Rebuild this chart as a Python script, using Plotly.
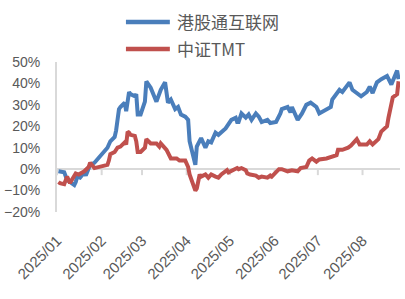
import plotly.graph_objects as go

# ---------------- data ----------------
hk_dates = [
    "2025-01-02", "2025-01-06", "2025-01-08", "2025-01-13", "2025-01-14", "2025-01-15",
    "2025-01-17", "2025-01-20", "2025-01-21", "2025-01-23", "2025-01-24", "2025-01-27",
    "2025-02-05", "2025-02-07", "2025-02-10", "2025-02-11", "2025-02-13", "2025-02-14",
    "2025-02-17", "2025-02-18", "2025-02-20", "2025-02-21", "2025-02-24", "2025-02-25",
    "2025-02-26", "2025-02-28", "2025-03-03", "2025-03-04", "2025-03-07", "2025-03-11",
    "2025-03-13", "2025-03-14", "2025-03-17", "2025-03-19", "2025-03-21", "2025-03-24",
    "2025-03-26", "2025-03-28", "2025-03-31", "2025-04-02", "2025-04-03", "2025-04-07",
    "2025-04-08", "2025-04-10", "2025-04-11", "2025-04-14", "2025-04-16", "2025-04-18",
    "2025-04-21", "2025-04-23", "2025-04-25", "2025-04-28", "2025-05-02", "2025-05-05",
    "2025-05-06", "2025-05-07", "2025-05-09", "2025-05-12", "2025-05-14", "2025-05-16",
    "2025-05-19", "2025-05-21", "2025-05-23", "2025-05-27", "2025-05-29", "2025-06-02",
    "2025-06-05", "2025-06-06", "2025-06-10", "2025-06-12", "2025-06-13", "2025-06-17",
    "2025-06-20", "2025-06-23", "2025-06-26", "2025-06-30", "2025-07-02", "2025-07-07",
    "2025-07-10", "2025-07-11", "2025-07-16", "2025-07-18", "2025-07-23", "2025-07-25",
    "2025-07-31", "2025-08-04", "2025-08-06", "2025-08-08", "2025-08-11", "2025-08-14",
    "2025-08-18", "2025-08-21", "2025-08-25", "2025-08-26",
]
hk_internet = [
    -1, -1.5, -5, -7.4, -6, -3.5,
    -4, -1.5, -3, 0, 2, 3,
    10, 13, 15, 18, 28, 29,
    31, 27, 36, 35, 34, 35,
    25.5, 25.5, 31.5, 41, 38, 31.5,
    36, 37, 40.5, 31, 32.5, 28,
    29, 25.5, 24.5, 23, 13, 2,
    10.5, 13, 14.5, 10, 13, 12.5,
    17, 16, 17, 19, 23, 24,
    22, 22, 26, 24, 25.5, 23,
    26, 24.5, 22, 23, 21.5, 22,
    26, 28, 29, 26.5, 29, 23,
    26, 30, 31, 29, 26, 28,
    29, 32.5, 37, 36, 40.5, 37,
    34, 36, 38.5, 35.5, 40.5, 42,
    43.5, 39.5, 46, 42,
]

tmt_dates = [
    "2025-01-02", "2025-01-03", "2025-01-06", "2025-01-07", "2025-01-08", "2025-01-10",
    "2025-01-14", "2025-01-16", "2025-01-20", "2025-01-23", "2025-01-24", "2025-01-27",
    "2025-02-05", "2025-02-06", "2025-02-07", "2025-02-10", "2025-02-11", "2025-02-12",
    "2025-02-14", "2025-02-17", "2025-02-18", "2025-02-19", "2025-02-20", "2025-02-21",
    "2025-02-24", "2025-02-25", "2025-02-26", "2025-02-28", "2025-03-03", "2025-03-04",
    "2025-03-07", "2025-03-11", "2025-03-13", "2025-03-14", "2025-03-18", "2025-03-20",
    "2025-03-21", "2025-03-25", "2025-03-27", "2025-03-31", "2025-04-02", "2025-04-03",
    "2025-04-07", "2025-04-08", "2025-04-10", "2025-04-11", "2025-04-14", "2025-04-16",
    "2025-04-18", "2025-04-21", "2025-04-23", "2025-04-25", "2025-04-29", "2025-04-30",
    "2025-05-06", "2025-05-07", "2025-05-09", "2025-05-12", "2025-05-13", "2025-05-15",
    "2025-05-19", "2025-05-21", "2025-05-23", "2025-05-27", "2025-05-29", "2025-05-30",
    "2025-06-04", "2025-06-06", "2025-06-10", "2025-06-13", "2025-06-17", "2025-06-19",
    "2025-06-23", "2025-06-25", "2025-06-27", "2025-06-30", "2025-07-02", "2025-07-07",
    "2025-07-10", "2025-07-14", "2025-07-15", "2025-07-18", "2025-07-22", "2025-07-24",
    "2025-07-28", "2025-07-30", "2025-08-04", "2025-08-06", "2025-08-08", "2025-08-12",
    "2025-08-14", "2025-08-18", "2025-08-19", "2025-08-21", "2025-08-22", "2025-08-25",
    "2025-08-26",
]
csi_tmt = [
    -6, -6.5, -7, -5, -3.5, -6.5,
    -2, -2.5, -1, 1, 3, 0.5,
    2, 4, 7, 8, 9, 10,
    10.5, 12.5, 11.5, 17.5, 17, 16,
    15.5, 13, 8, 8, 10, 14,
    12, 12, 10.5, 12, 9, 6,
    5, 5, 4, 4, 1, -2.5,
    -10, -9, -2.5, -3.5, -2.5, -4,
    -2.5, -3.5, -4, -2.5, -0.5, -1.5,
    0.5, 0, 0.5, -0.5, -2, -2.5,
    -3, -4, -3.5, -4, -3, -3.5,
    0, 0, -1, -0.5, -1, 0.5,
    1, 4, 5, 3.5, 4.5, 5,
    5.5, 6.5, 9, 9, 10, 11,
    14, 11.5, 11.5, 13, 11.5, 14,
    17.5, 20, 24, 31, 33.5, 35,
    41,
]

series_names = ["港股通互联网", "中证TMT"]
series_colors = ["#4A7EBB", "#C0504D"]

month_ticks = ["2025-01-01", "2025-02-01", "2025-03-01", "2025-04-01",
               "2025-05-01", "2025-06-01", "2025-07-01", "2025-08-01"]
month_labels = ["2025/01", "2025/02", "2025/03", "2025/04",
                "2025/05", "2025/06", "2025/07", "2025/08"]
y_ticks = [-20, -10, 0, 10, 20, 30, 40, 50]
y_labels = ["\u221220%", "\u221210%", "0%", "10%", "20%", "30%", "40%", "50%"]

# ---------------- figure ----------------
fig = go.Figure()
fig.add_trace(go.Scatter(x=hk_dates, y=hk_internet, mode="lines", name=series_names[0],
                         line=dict(color=series_colors[0], width=4), showlegend=False))
fig.add_trace(go.Scatter(x=tmt_dates, y=csi_tmt, mode="lines", name=series_names[1],
                         line=dict(color=series_colors[1], width=4), showlegend=False))

axis_grey = "#D9D9D9"
text_grey = "#595959"

shapes = []
# small tick marks hanging below the zero line at each month start
for d in month_ticks:
    shapes.append(dict(type="line", xref="x", yref="y", x0=d, x1=d,
                       ysizemode="pixel", yanchor=0, y0=0, y1=-6,
                       line=dict(color=axis_grey, width=2), layer="below"))

# custom legend (line samples + labels)
leg_y = [1.267, 1.087]
annotations = []
for name, color, yy in zip(series_names, series_colors, leg_y):
    shapes.append(dict(type="line", xref="paper", yref="paper", x0=0.201, x1=0.329,
                       y0=yy, y1=yy, line=dict(color=color, width=4.5)))
    annotations.append(dict(xref="paper", yref="paper", x=0.344, y=yy, text=name,
                            showarrow=False, xanchor="left", yanchor="middle",
                            font=dict(family="Noto Sans CJK SC", size=17, color=text_grey)))

fig.update_layout(
    width=405, height=299,
    margin=dict(l=57, r=5, t=62, b=87),
    paper_bgcolor="white", plot_bgcolor="white",
    shapes=shapes, annotations=annotations,
    font=dict(family="Liberation Sans, Arial", size=13, color=text_grey),
    xaxis=dict(type="date", range=["2025-01-01", "2025-08-27"],
               tickmode="array", tickvals=month_ticks, ticktext=month_labels,
               tickangle=-45, showgrid=False, zeroline=False, showline=False,
               ticks="", ticklabelstandoff=16,
               tickfont=dict(family="Liberation Sans, Arial", size=15, color=text_grey)),
    yaxis=dict(range=[-20, 50], tickmode="array", tickvals=y_ticks, ticktext=y_labels,
               showgrid=False, zeroline=True, zerolinecolor=axis_grey, zerolinewidth=2,
               showline=True, linecolor=axis_grey, linewidth=2, ticks="",
               ticklabelstandoff=12,
               tickfont=dict(family="Liberation Sans, Arial", size=14, color=text_grey)),
)

fig.write_html("out.html")
